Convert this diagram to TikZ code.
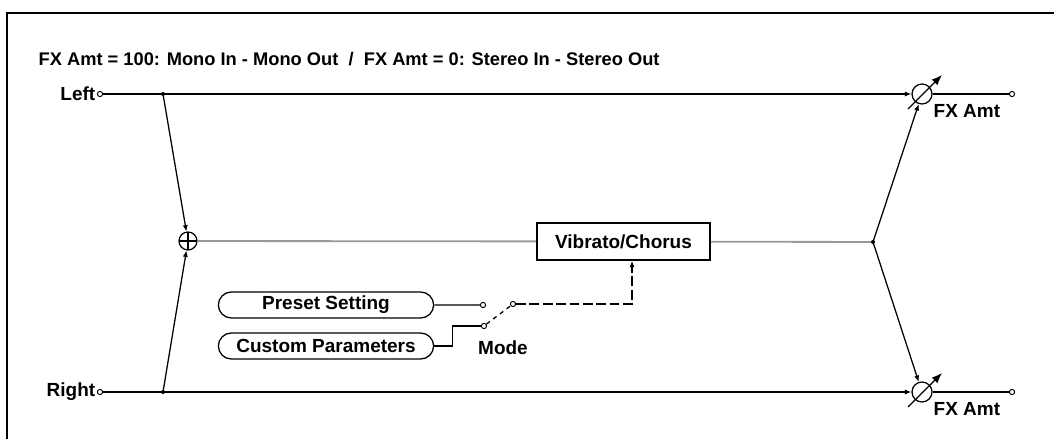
\documentclass[tikz,border=0pt]{standalone}
\usepackage{fontspec}
\setmainfont{Liberation Sans}
\usetikzlibrary{arrows.meta,shapes.misc,calc}

\begin{document}
\begin{tikzpicture}[
  x=0.025cm, y=-0.025cm,
  lbl/.style={font=\fontsize{13.5}{16}\selectfont\bfseries, inner sep=1pt},
  term/.style={draw, circle, fill=white, inner sep=0pt, minimum size=0.13cm, line width=0.7pt},
  blk/.style={draw, line width=1pt, minimum width=4.33cm, minimum height=0.93cm,
              font=\fontsize{13.5}{16}\selectfont\bfseries},
  pill/.style={draw, rounded rectangle, line width=0.9pt, minimum width=5.45cm,
               minimum height=0.65cm, inner sep=1pt, font=\fontsize{13.5}{16}\selectfont\bfseries},
  fx/.style={draw, circle, minimum size=0.5cm, inner sep=0pt, line width=0.9pt},
  sum/.style={draw, circle, minimum size=0.45cm, inner sep=0pt, line width=0.9pt, fill=white,
              path picture={\draw (path picture bounding box.north) -- (path picture bounding box.south)
                                  (path picture bounding box.west) -- (path picture bounding box.east);}},
  sig/.style={line width=0.9pt},
  bus/.style={line width=1.3pt, gray!80},
  arr/.style={-{Latex[length=1.6mm,width=1.3mm]}, line width=0.9pt},
  ctrl/.style={-{Latex[length=1.6mm,width=1.3mm]}, line width=0.9pt, dash pattern=on 7pt off 2.5pt},
  vol/.style={-{Latex[length=2.6mm,width=2mm]}, line width=0.9pt},
]
\fill[white] (0,0) rectangle (1054,439);
\useasboundingbox (0,0) rectangle (1054,439);
\draw[line width=1.4pt] (7,13) rectangle (1090,480);

\node[lbl, anchor=west, font=\fontsize{13}{16}\selectfont\bfseries] (ttl) at (37,59) {FX Amt = 100: Mono In - Mono Out\ \ /\ \ FX Amt = 0: Stereo In - Stereo Out};

\node[term] (inL) at (100,94) {};
\node[term] (inR) at (100,392) {};
\node[lbl, anchor=east] (lblL) at (inL.west) {Left};
\node[lbl, anchor=east] (lblR) at (inR.west) {Right};
\coordinate (tapL) at (163,94);
\coordinate (tapR) at (163,392);
\node[sum] (mix) at (188,241) {};
\node[blk] (vc) at (623.5,241.5) {Vibrato/Chorus};
\coordinate (jn) at (873,242);
\node[fx] (fxL) at (922,94) {};
\node[fx] (fxR) at (922,392) {};
\node[term] (outL) at (1012,94) {};
\node[term] (outR) at (1012,392) {};
\node[lbl, anchor=north west] (amtL) at (932,103) {FX Amt};
\node[lbl, anchor=north west] (amtR) at (932,401) {FX Amt};

\node[pill] (ps) at (326,305) {Preset Setting};
\node[pill] (cp) at (326,346) {Custom Parameters};
\node[term] (swA) at (483,305) {};
\node[term] (swB) at (484,326) {};
\node[term] (swC) at (513,304) {};
\node[lbl] (mode) at (503,348) {Mode};
\coordinate (ctl) at (632,304);

\draw[arr] (inL) -- (fxL);
\draw[arr] (inR) -- (fxR);
\draw[arr] (tapL) -- (mix);
\draw[arr] (tapR) -- (mix);
\draw[bus] (mix) -- (vc) -- (jn);
\draw[arr] (jn) -- (fxL);
\draw[arr] (jn) -- (fxR);
\foreach \a/\b in {fxL/outL, fxR/outR}
  \draw[sig] (\a) -- (\b);
\foreach \f in {fxL, fxR}
  \draw[vol] ($(\f)+(-14,15)$) -- ($(\f)+(20,-19)$);
\foreach \p in {tapL, tapR, jn}
  \fill (\p) circle (0.05cm);

\draw[sig] (ps) -- (swA);
\draw[sig] (cp.east) -- ++(18,0) |- (swB);
\draw[sig, dashed] (swB) -- (swC);
\draw[ctrl] (swC) -- (ctl) -- (ctl |- vc.south);
\end{tikzpicture}
\end{document}
